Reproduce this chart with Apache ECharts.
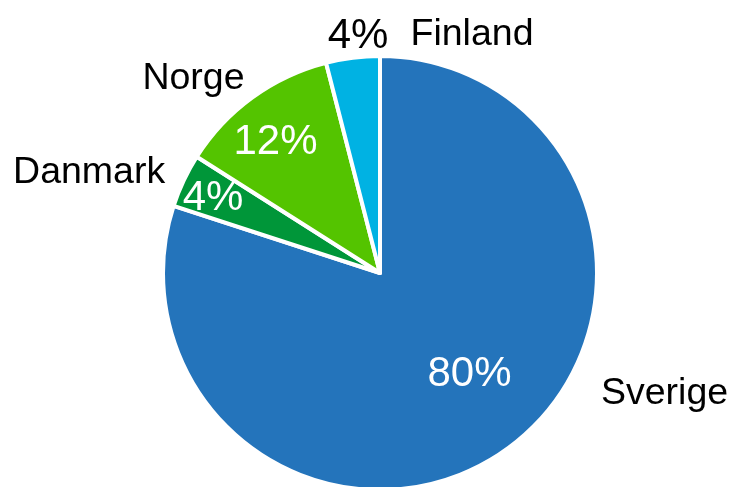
<!DOCTYPE html>
<html>
<head>
<meta charset="utf-8">
<script src="https://cdn.jsdelivr.net/npm/echarts@6/dist/echarts.min.js"></script>
<style>html,body{margin:0;padding:0;background:#fff}#c{width:733px;height:487px}</style>
</head>
<body>
<div id="c"></div>
<script>
var categories = ['Sverige', 'Danmark', 'Norge', 'Finland'];
var values = [80, 4, 12, 4];
var colors = ['#2474BB', '#009639', '#54C400', '#00B2E3'];

// label placement (style, not data): offsets from the slice's mid-radius point
var pctOffsets = [[24, 11], [-66, -27], [-39, -40], [-8, -126]];
var pctColors = ['#fff', '#fff', '#fff', '#000'];
var nameOffsets = [[219, 30], [-190, -53], [-121, -104], [106, -128]];

var total = values.reduce(function (a, b) { return a + b; }, 0);
var font = 'Liberation Sans, Arial, sans-serif';

var pctData = categories.map(function (c, i) {
  return {
    name: c, value: values[i],
    itemStyle: { color: colors[i] },
    label: { offset: pctOffsets[i], color: pctColors[i] }
  };
});
var nameData = categories.map(function (c, i) {
  return {
    name: c, value: values[i],
    label: { offset: nameOffsets[i] }
  };
});

var chart = echarts.init(document.getElementById('c'), null, { renderer: 'canvas' });
chart.setOption({
  animation: false,
  backgroundColor: '#fff',
  series: [
    {
      type: 'pie',
      center: [380, 273],
      radius: [0, 217],
      startAngle: 90,
      clockwise: true,
      avoidLabelOverlap: false,
      silent: true,
      itemStyle: { borderColor: '#fff', borderWidth: 4 },
      label: {
        show: true, position: 'inside',
        fontFamily: font, fontSize: 42,
        formatter: function (p) { return Math.round(p.value / total * 100) + '%'; }
      },
      labelLine: { show: false },
      data: pctData
    },
    {
      type: 'pie',
      center: [380, 273],
      radius: [0, 217],
      startAngle: 90,
      clockwise: true,
      avoidLabelOverlap: false,
      silent: true,
      itemStyle: { color: 'rgba(0,0,0,0)', borderWidth: 0 },
      label: {
        show: true, position: 'inside',
        fontFamily: font, fontSize: 37.5, color: '#000',
        formatter: '{b}'
      },
      labelLine: { show: false },
      data: nameData
    }
  ]
});
</script>
</body>
</html>
